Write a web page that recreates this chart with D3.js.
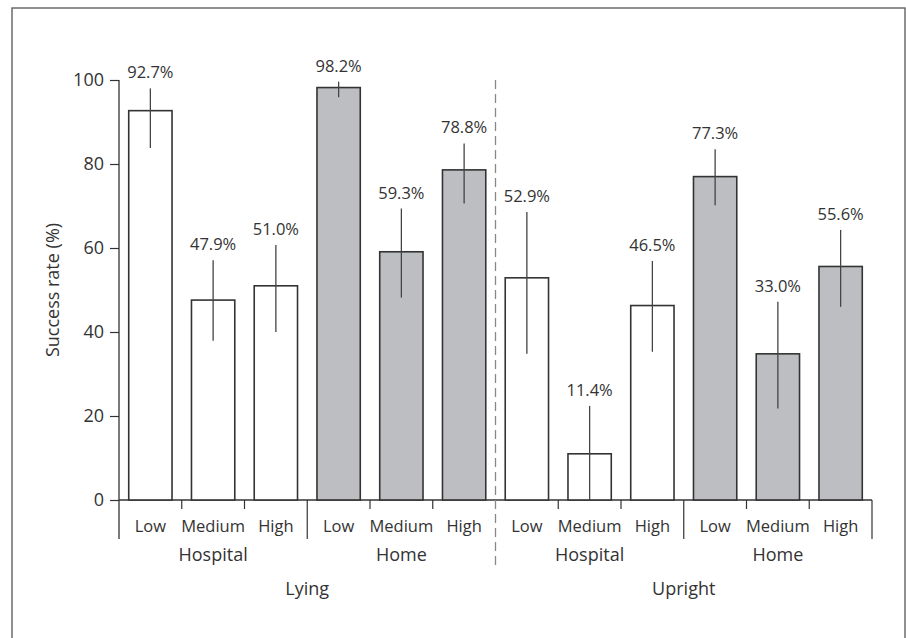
<!DOCTYPE html>
<html>
<head>
<meta charset="utf-8">
<script src="https://cdn.jsdelivr.net/npm/d3@7"></script>
<style>
  body { margin: 0; background: #fff; }
  svg text { font-family: "Open Sans", "Noto Sans", sans-serif; fill: #333; }
</style>
</head>
<body>
<svg width="906" height="638"></svg>
<script>
// chart data
const postures = ['Lying', 'Upright'];
const settings = ['Hospital', 'Home'];
const levels = ['Low', 'Medium', 'High'];

// bar heights (%), in order posture > setting > level
const values = [92.7, 47.6, 51.0, 98.2, 59.1, 78.6, 52.9, 11.0, 46.3, 77.0, 34.8, 55.6];
// printed labels
const labels = ['92.7%', '47.9%', '51.0%', '98.2%', '59.3%', '78.8%', '52.9%', '11.4%', '46.5%', '77.3%', '33.0%', '55.6%'];
// error bar ends (%)
const errLow = [83.8, 37.9, 40.0, 95.9, 48.2, 70.6, 34.8, 0, 35.3, 70.2, 21.8, 46.0];
const errHigh = [98.0, 57.1, 60.7, 99.6, 69.4, 84.9, 68.6, 22.4, 56.9, 83.5, 47.2, 64.3];

const yTicks = [0, 20, 40, 60, 80, 100];

const fills = { Hospital: '#ffffff', Home: '#bdbec2' };

// build rows from the arrays
const rows = [];
postures.forEach(p => settings.forEach(s => levels.forEach(l => {
    const i = rows.length;
    rows.push({ key: `${p}-${s}-${l}`, posture: p, setting: s, level: l,
        value: values[i], label: labels[i], lo: errLow[i], hi: errHigh[i] });
})));

const svg = d3.select('svg');

// outer frame
svg.append('rect')
    .attr('x', 12).attr('y', 8)
    .attr('width', 893).attr('height', 660)
    .attr('fill', 'none')
    .attr('stroke', '#555')
    .attr('stroke-width', 1.3);

const plotLeft = 119, plotRight = 872, plotTop = 80, plotBottom = 500;

const x = d3.scaleBand()
    .domain(rows.map(d => d.key))
    .range([plotLeft, plotRight])
    .paddingInner(0.31)
    .paddingOuter(0.155);

const step = (plotRight - plotLeft) / rows.length;
const edge = i => plotLeft + i * step;

const y = d3.scaleLinear().domain([0, 100]).range([plotBottom, plotTop]);

// y axis
const yAxis = svg.append('g')
    .attr('transform', `translate(${plotLeft},0)`)
    .call(d3.axisLeft(y).tickValues(yTicks).tickSize(9).tickPadding(6));
yAxis.select('.domain').remove();
yAxis.selectAll('.tick line').attr('stroke', '#333').attr('stroke-width', 1.2);
yAxis.selectAll('.tick text')
    .attr('font-size', 18)
    .attr('fill', '#333')
    .attr('font-family', '"Open Sans", sans-serif');

const axisColor = '#333';
// vertical axis line, running down past zero into the label area
svg.append('line')
    .attr('x1', plotLeft).attr('x2', plotLeft)
    .attr('y1', plotTop).attr('y2', 539)
    .attr('stroke', axisColor).attr('stroke-width', 1.3);

// horizontal baseline
svg.append('line')
    .attr('x1', plotLeft).attr('x2', plotRight)
    .attr('y1', plotBottom).attr('y2', plotBottom)
    .attr('stroke', axisColor).attr('stroke-width', 1.3);

// small ticks between levels, long ticks between settings
for (let i = 1; i <= rows.length; i++) {
    if (i === 6) continue;
    const long = i % 3 === 0;
    svg.append('line')
        .attr('x1', edge(i)).attr('x2', edge(i))
        .attr('y1', plotBottom).attr('y2', long ? 539 : 509)
        .attr('stroke', axisColor).attr('stroke-width', 1.2);
}

// dashed separator between postures
svg.append('line')
    .attr('x1', edge(6)).attr('x2', edge(6))
    .attr('y1', plotTop).attr('y2', 568)
    .attr('stroke', '#888')
    .attr('stroke-width', 1.3)
    .attr('stroke-dasharray', '9,5');

// bars
svg.append('g').selectAll('rect')
    .data(rows)
    .join('rect')
    .attr('x', d => x(d.key))
    .attr('y', d => y(d.value))
    .attr('width', x.bandwidth())
    .attr('height', d => y(0) - y(d.value))
    .attr('fill', d => fills[d.setting])
    .attr('stroke', '#333')
    .attr('stroke-width', 1.6);

// error bars (no caps)
svg.append('g').selectAll('line')
    .data(rows)
    .join('line')
    .attr('x1', d => x(d.key) + x.bandwidth() / 2)
    .attr('x2', d => x(d.key) + x.bandwidth() / 2)
    .attr('y1', d => y(d.lo))
    .attr('y2', d => y(d.hi))
    .attr('stroke', '#444')
    .attr('stroke-width', 1.3);

// value labels
svg.append('g').selectAll('text')
    .data(rows)
    .join('text')
    .attr('x', d => x(d.key) + x.bandwidth() / 2)
    .attr('y', d => y(d.hi) - 10)
    .attr('text-anchor', 'middle')
    .attr('font-size', 16.5)
    .text(d => d.label);

// level labels
svg.append('g').selectAll('text')
    .data(rows)
    .join('text')
    .attr('x', d => x(d.key) + x.bandwidth() / 2)
    .attr('y', 532)
    .attr('text-anchor', 'middle')
    .attr('font-size', 16.5)
    .text(d => d.level);

// setting labels
const settingGroups = [];
postures.forEach(p => settings.forEach(s => settingGroups.push(s)));
svg.append('g').selectAll('text')
    .data(settingGroups)
    .join('text')
    .attr('x', (d, i) => (edge(i * 3) + edge(i * 3 + 3)) / 2)
    .attr('y', 561)
    .attr('text-anchor', 'middle')
    .attr('font-size', 18)
    .text(d => d);

// posture labels
svg.append('g').selectAll('text')
    .data(postures)
    .join('text')
    .attr('x', (d, i) => (edge(i * 6) + edge(i * 6 + 6)) / 2)
    .attr('y', 595)
    .attr('text-anchor', 'middle')
    .attr('font-size', 18)
    .text(d => d);

// y axis title
svg.append('text')
    .attr('transform', `translate(59,${(plotTop + plotBottom) / 2}) rotate(-90)`)
    .attr('text-anchor', 'middle')
    .attr('font-size', 18)
    .text('Success rate (%)');
</script>
</body>
</html>
